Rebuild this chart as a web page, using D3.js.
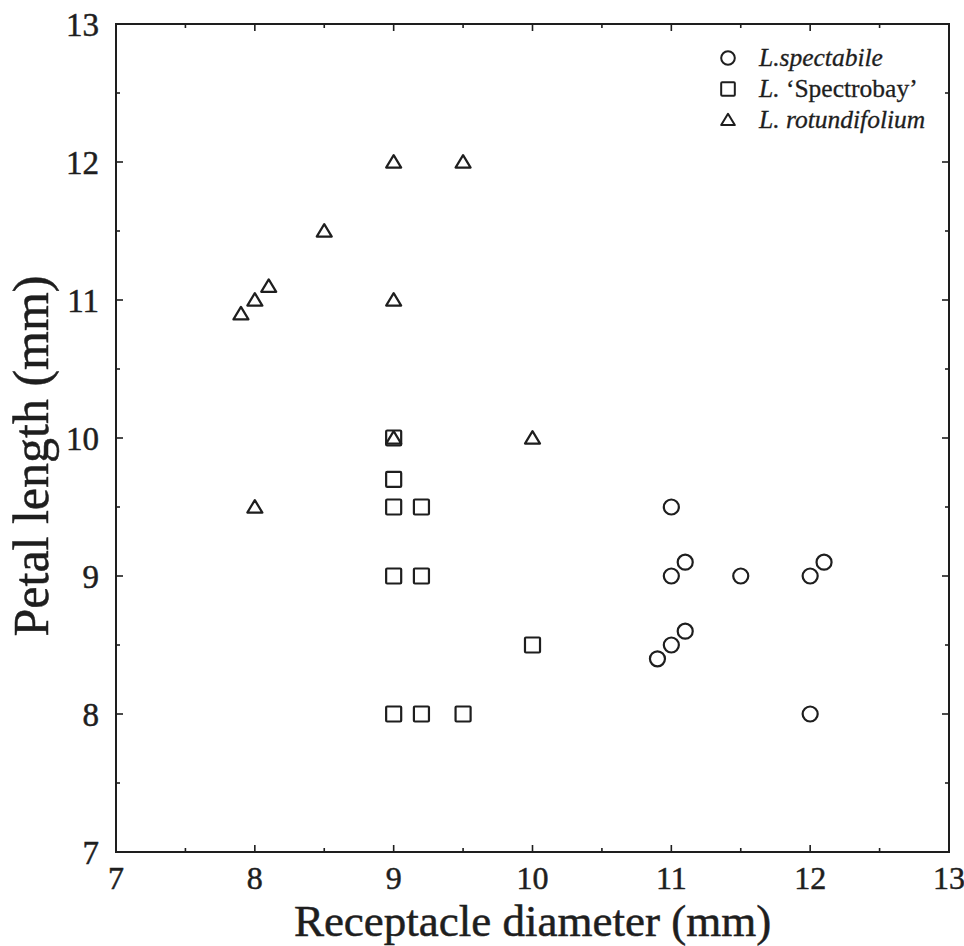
<!DOCTYPE html>
<html>
<head>
<meta charset="utf-8">
<script src="https://cdn.jsdelivr.net/npm/d3@7"></script>
<style>
  html, body { margin: 0; padding: 0; background: #fff; }
  svg { display: block; }
  svg text { font-family: "Liberation Serif", "Times New Roman", serif; }
</style>
</head>
<body>
<svg id="chart" width="964" height="946"></svg>
<script>
// ---- data ----
const spectabileX = [11, 11, 11.1, 11.5, 12, 12.1, 10.9, 11, 11.1, 12];
const spectabileY = [9.5, 9, 9.1, 9, 9, 9.1, 8.4, 8.5, 8.6, 8];
const spectrobayX = [9, 9, 9, 9.2, 9, 9.2, 10, 9, 9.2, 9.5];
const spectrobayY = [10, 9.7, 9.5, 9.5, 9, 9, 8.5, 8, 8, 8];
const rotundifoliumX = [7.9, 8, 8.1, 8.5, 9, 9.5, 9, 9, 10, 8];
const rotundifoliumY = [10.9, 11, 11.1, 11.5, 12, 12, 11, 10, 10, 9.5];
const xTicks = [7, 8, 9, 10, 11, 12, 13];
const yTicks = [7, 8, 9, 10, 11, 12, 13];
const xMinor = [7.5, 8.5, 9.5, 10.5, 11.5, 12.5];
const yMinor = [7.5, 8.5, 9.5, 10.5, 11.5, 12.5];
const xTitle = "Receptacle diameter (mm)";
const yTitle = "Petal length (mm)";

const series = [
  { name: "spectabile", shape: "circle", xs: spectabileX, ys: spectabileY },
  { name: "spectrobay", shape: "square", xs: spectrobayX, ys: spectrobayY },
  { name: "rotundifolium", shape: "triangle", xs: rotundifoliumX, ys: rotundifoliumY }
];

// ---- layout ----
const L = 116, R = 949, T = 24, B = 852;
const ink = "#1e1e1e";
const svg = d3.select("#chart");
const x = d3.scaleLinear().domain([7, 13]).range([L, R]);
const y = d3.scaleLinear().domain([7, 13]).range([B, T]);

// frame
svg.append("rect").attr("x", L).attr("y", T).attr("width", R - L).attr("height", B - T)
  .attr("fill", "none").attr("stroke", ink).attr("stroke-width", 2);

// ticks (inward on all sides)
const majorLen = 7, minorLen = 4;
const gT = svg.append("g").attr("stroke", ink).attr("stroke-width", 1.6);
function vTicks(vals, len) {
  vals.forEach(v => {
    gT.append("line").attr("x1", x(v)).attr("x2", x(v)).attr("y1", B).attr("y2", B - len);
    gT.append("line").attr("x1", x(v)).attr("x2", x(v)).attr("y1", T).attr("y2", T + len);
  });
}
function hTicks(vals, len) {
  vals.forEach(v => {
    gT.append("line").attr("y1", y(v)).attr("y2", y(v)).attr("x1", L).attr("x2", L + len);
    gT.append("line").attr("y1", y(v)).attr("y2", y(v)).attr("x1", R).attr("x2", R - len);
  });
}
vTicks(xTicks.slice(1, -1), majorLen); vTicks(xMinor, minorLen);
hTicks(yTicks.slice(1, -1), majorLen); hTicks(yMinor, minorLen);

// tick labels
svg.append("g").selectAll("text").data(xTicks).join("text")
  .attr("x", d => x(d)).attr("y", 889).attr("text-anchor", "middle")
  .attr("font-size", 32).attr("fill", ink).attr("stroke", ink).attr("stroke-width", 0.5)
  .text(d => d);
svg.append("g").selectAll("text").data(yTicks).join("text")
  .attr("x", 99).attr("y", d => y(d) + 12).attr("text-anchor", "end")
  .attr("font-size", 33).attr("fill", ink).attr("stroke", ink).attr("stroke-width", 0.5)
  .text(d => d);

// axis titles
svg.append("text").attr("x", (L + R) / 2).attr("y", 936).attr("text-anchor", "middle")
  .attr("font-size", 45).attr("fill", ink).attr("stroke", ink).attr("stroke-width", 0.5)
  .text(xTitle);
svg.append("text").attr("transform", `translate(48,${(T + B) / 2 + 18}) rotate(-90)`)
  .attr("text-anchor", "middle").attr("font-size", 50).attr("fill", ink)
  .attr("stroke", ink).attr("stroke-width", 0.5).text(yTitle);

// symbols
function drawSym(g, shape, cx, cy, s) {
  if (shape === "circle") {
    g.append("circle").attr("cx", cx).attr("cy", cy).attr("r", s * 0.47);
  } else if (shape === "square") {
    g.append("rect").attr("x", cx - s * 0.47).attr("y", cy - s * 0.47)
      .attr("width", s * 0.94).attr("height", s * 0.94).attr("rx", 1);
  } else {
    const h = s * 0.78, w = s * 0.94;
    g.append("path").attr("d",
      `M${cx},${cy - h * 0.55} L${cx + w / 2},${cy + h * 0.45} L${cx - w / 2},${cy + h * 0.45} Z`)
      .attr("stroke-linejoin", "round");
  }
}
const gPts = svg.append("g").attr("fill", "none").attr("stroke", ink).attr("stroke-width", 2.2);
series.forEach(sr => {
  sr.xs.forEach((xv, i) => drawSym(gPts, sr.shape, x(xv), y(sr.ys[i]), 16));
});

// legend
const gLeg = svg.append("g");
const legRows = [
  { shape: "circle", parts: [["L.spectabile", true]] },
  { shape: "square", parts: [["L.", true], [" \u2018Spectrobay\u2019", false]] },
  { shape: "triangle", parts: [["L. rotundifolium", true]] }
];
legRows.forEach((row, i) => {
  const cy = 58 + i * 31;
  const gs = gLeg.append("g").attr("fill", "none").attr("stroke", ink).attr("stroke-width", 2);
  drawSym(gs, row.shape, 728, cy, 14.5);
  const t = gLeg.append("text").attr("x", 759).attr("y", cy + 8).attr("font-size", 25.5)
    .attr("fill", ink).attr("stroke", ink).attr("stroke-width", 0.3);
  row.parts.forEach(p => t.append("tspan").attr("font-style", p[1] ? "italic" : "normal").text(p[0]));
});
</script>
</body>
</html>
